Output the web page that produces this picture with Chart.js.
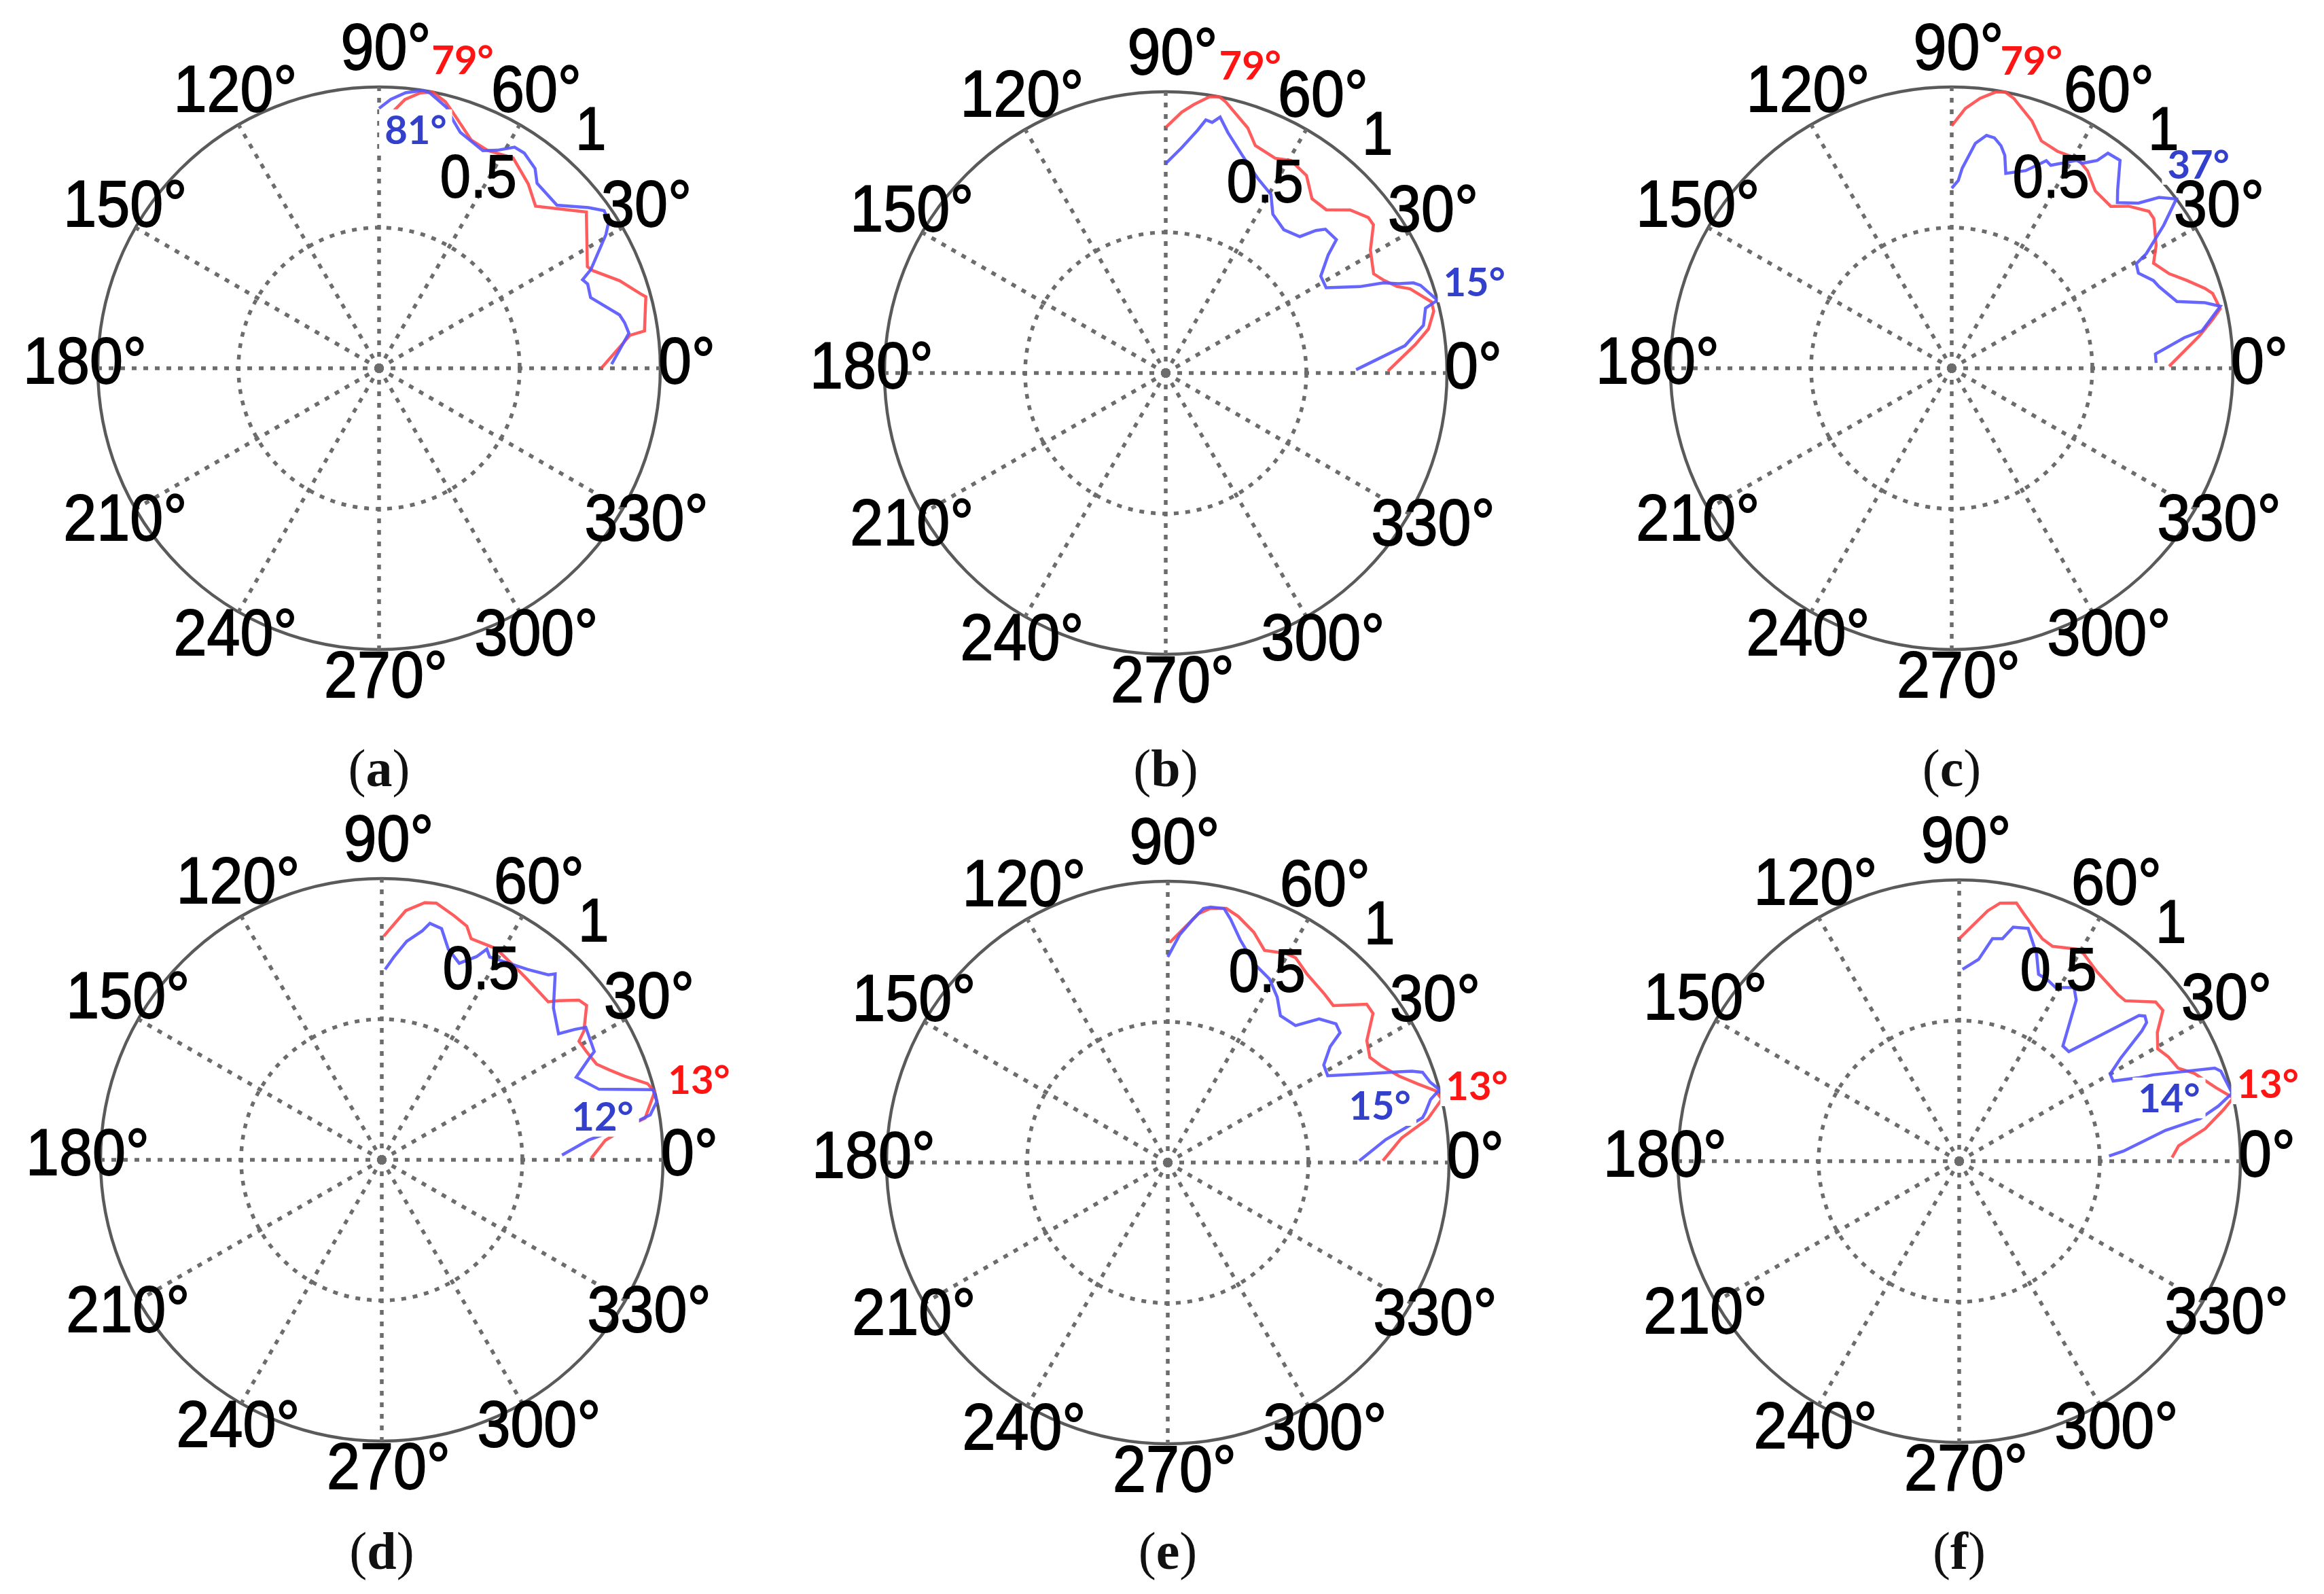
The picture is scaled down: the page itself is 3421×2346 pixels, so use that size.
<!DOCTYPE html>
<html>
<head>
<meta charset="utf-8">
<script src="https://cdn.jsdelivr.net/npm/chart.js@4.4.1/dist/chart.umd.min.js"></script>
<style>
html,body{margin:0;padding:0;background:#fff;}
body{width:3421px;height:2346px;position:relative;overflow:hidden;}
.pane{position:absolute;width:1160px;height:1160px;}
.cap{position:absolute;width:240px;text-align:center;font-family:"Liberation Serif","Times New Roman",serif;font-size:78px;line-height:78px;color:#111;}
.cap b{font-weight:bold;}
</style>
</head>
<body>
<script>
// ---------------- DATA (angle in degrees, normalised radius) ----------------
const angleTicks = [0, 30, 60, 90, 120, 150, 180, 210, 240, 270, 300, 330];
const radialTicks = [0.5, 1];
const radialTickText = ['0.5', '1'];
const captions = ['a', 'b', 'c', 'd', 'e', 'f'];

const degA_red  = [0, 7.5, 8, 15, 16, 20, 24.5, 26, 37, 46, 51, 57.5, 63.5, 68, 74, 76, 79, 81.5, 84.5, 87];
const rA_red    = [.79, .90, .953, .982, .965, .91, .836, .824, .923, .801, .843, .887, .865, .875, .948, .976, 1.0, .99, .96, .912];
const degA_blue = [1, 8, 10.5, 12.5, 18.5, 22, 23.5, 25, 30.5, 32.5, 35, 37.5, 42.5, 49.5, 52, 56, 58.5, 61.5, 64.5, 71, 73.5, 75.5, 79.5, 81, 84.5, 87.5, 90];
const rA_blue   = [.827, .897, .888, .876, .793, .80, .789, .831, .936, .968, .977, .938, .858, .865, .901, .923, .922, .882, .857, .887, .922, .958, .995, 1.0, .984, .957, .924];

const degB_red  = [0.5, 6.5, 9.5, 13, 15, 19, 20.5, 23, 25.5, 31, 35.5, 37.5, 41.5, 45.5, 50, 54.5, 59.5, 63, 68.5, 71.5, 77.5, 79, 81, 84, 86.5, 90];
const rB_red    = [.79, .893, .947, .978, .978, .919, .878, .843, .819, .849, .907, .908, .875, .814, .809, .862, .877, .857, .869, .919, .987, 1.0, .994, .96, .929, .873];
const degB_blue = [1, 6.5, 10.5, 14, 15, 19, 20, 21, 22.5, 24, 28, 32, 36, 38, 42, 43.5, 45.5, 50.5, 56, 59.5, 64.5, 70.5, 75.5, 78, 79.5, 81, 82.5, 86, 90];
const rB_blue   = [.677, .856, .932, .952, 1.0, .958, .937, .887, .838, .755, .646, .65, .714, .77, .764, .736, .68, .66, .681, .737, .764, .819, .883, .93, .906, .911, .871, .802, .745];

const degC_red  = [0.5, 7.5, 10.5, 12.5, 16, 17.5, 20.5, 23.5, 27.5, 31, 36.5, 38.5, 42.5, 45.5, 51, 55.5, 59, 64, 68.5, 72, 77, 79, 81, 84, 87, 90];
const rC_red    = [.773, .889, .942, .978, .965, .944, .892, .843, .809, .848, .894, .896, .853, .807, .811, .852, .869, .858, .869, .924, .984, 1.0, .994, .965, .925, .862];
const degC_blue = [1.5, 4, 7.5, 8.5, 13, 14.5, 16.5, 21.5, 23.5, 27, 29.5, 30.5, 34, 37, 39.5, 41.5, 45, 47, 51, 54, 55, 57.5, 59, 64, 65.5, 69.5, 74.5, 76, 77.5, 79.5, 81.5, 84, 87, 88, 90];
const rC_blue   = [.727, .726, .834, .90, .98, .93, .835, .792, .782, .745, .754, .803, .909, 1.0, .955, .886, .833, .865, .951, .945, .902, .864, .862, .803, .811, .75, .719, .78, .81, .833, .837, .804, .712, .668, .64];

const degD_red  = [0.5, 5, 8, 9, 14, 16, 19, 21.5, 24, 28, 31, 32.5, 37, 39, 42, 43.5, 51, 53.5, 61.5, 68, 70, 73.5, 78, 80.5, 84.5, 89.5];
const rD_red    = [.745, .798, .895, .948, 1.0, .983, .913, .871, .836, .823, .818, .852, .912, .902, .846, .816, .824, .829, .854, .848, .884, .905, .933, .927, .89, .795];
const degD_blue = [1.5, 5.5, 8, 9.5, 12, 14.5, 18, 23, 26, 27, 33, 34, 35.5, 41.5, 47, 48, 52.5, 62, 63.5, 65, 68.5, 72.5, 75.5, 78.5, 80, 83.5, 86.5, 89];
const rD_blue   = [.641, .74, .89, .968, 1.0, .996, .812, .751, .819, .848, .865, .83, .772, .815, .904, .885, .853, .817, .837, .797, .751, .786, .849, .858, .826, .782, .724, .677];

const degE_red  = [0.5, 6, 9.5, 13, 15, 17.5, 20.5, 24.5, 27.5, 31.5, 36, 38.5, 43.5, 47, 53.5, 58, 60.5, 65.5, 69.5, 74, 77, 80.5, 83, 89.5];
const rE_red    = [.765, .836, .937, 1.0, .986, .931, .878, .832, .81, .83, .902, .904, .811, .818, .833, .858, .854, .829, .874, .91, .927, .916, .891, .782];
const degE_blue = [0.5, 6, 10, 11, 13.5, 15, 17, 19.5, 20.5, 21.5, 24, 28.5, 32, 35.5, 37, 39.5, 43.5, 47, 52.5, 56.5, 61, 66.5, 72, 75.5, 77.5, 80.5, 82, 84, 87, 90];
const rE_blue   = [.681, .779, .92, .933, .961, 1.0, .976, .961, .927, .88, .776, .647, .654, .709, .767, .775, .742, .666, .658, .705, .746, .771, .833, .893, .925, .921, .912, .871, .811, .731];

const degF_red  = [1, 4, 7.5, 11, 13, 16, 20.5, 23, 26.5, 29.5, 33, 36.5, 39, 44, 46.5, 54, 59, 61, 66.5, 69.5, 71.5, 75.5, 77.5, 81, 83.5, 90];
const rF_red    = [.757, .782, .882, .957, 1.0, .949, .892, .846, .831, .811, .84, .901, .899, .821, .818, .833, .86, .862, .833, .844, .863, .911, .94, .929, .896, .791];
const degF_blue = [2, 3.5, 8.5, 10, 12, 14, 19, 20, 24, 25, 27.5, 30, 32.5, 35.5, 36.5, 38, 39, 45, 48, 51, 54, 56.5, 61, 64, 67, 69.5, 73.5, 77, 79, 81.5, 84.5, 89];
const rF_blue   = [.533, .585, .742, .869, .942, 1.0, .984, .967, .755, .701, .617, .62, .68, .798, .829, .838, .823, .551, .551, .619, .708, .74, .706, .717, .722, .786, .863, .854, .806, .80, .721, .682];

// peak annotations (text) per panel: [red, blue]
const peakText_a = ['79°', '81°'];
const peakText_b = ['79°', '15°'];
const peakText_c = ['79°', '37°'];
const peakText_d = ['13°', '12°'];
const peakText_e = ['13°', '15°'];
const peakText_f = ['13°', '14°'];

// ---------------- LAYOUT (positions / styles) ----------------
const R = 414;          // plot radius in px
const HALF = 580;       // half canvas size
const panels = [
  {id:'a', cx:558,  cy:542,  red:[degA_red, rA_red], blue:[degA_blue, rA_blue], peaks:peakText_a, pos:[[0.297,1.097],[0.130,0.848]]},
  {id:'b', cx:1716, cy:549,  red:[degB_red, rB_red], blue:[degB_blue, rB_blue], peaks:peakText_b, pos:[[0.300,1.094],[1.097,0.324]]},
  {id:'c', cx:2873, cy:542,  red:[degC_red, rC_red], blue:[degC_blue, rC_blue], peaks:peakText_c, pos:[[0.283,1.094],[0.877,0.725]]},
  {id:'d', cx:562,  cy:1707, red:[degD_red, rD_red], blue:[degD_blue, rD_blue], peaks:peakText_d, pos:[[1.128,0.285],[0.785,0.155]]},
  {id:'e', cx:1719, cy:1711, red:[degE_red, rE_red], blue:[degE_blue, rE_blue], peaks:peakText_e, pos:[[1.099,0.273],[0.754,0.203]]},
  {id:'f', cx:2884, cy:1709, red:[degF_red, rF_red], blue:[degF_blue, rF_blue], peaks:peakText_f, pos:[[1.097,0.275],[0.746,0.225]]}
];
const captionY = [1131, 1131, 1131, 2283, 2283, 2283];
const radialTextPos = [[0.353, 0.676], [0.753, 0.845]];

const STEP = 0.5;                       // degrees per radar slot
const NSLOT = 360 / STEP;
const slotLabels = Array.from({length: NSLOT}, (_, i) => String(90 - i * STEP));
function toSlots(deg, r) {
  const arr = new Array(Math.round(90 / STEP) + 1).fill(null);
  deg.forEach((d, k) => { arr[Math.round((90 - d) / STEP)] = r[k]; });
  return arr;
}

// keep curves open (radar lines close by default)
const openLine = {
  id: 'openLine',
  afterDatasetUpdate(chart, args) {
    const el = args.meta.dataset;
    if (el) { el._loop = false; el._fullLoop = false; delete el._segments; delete el._path; }
  }
};

function heavyText(ctx, t, x, y, sy) {
  ctx.save();
  ctx.translate(x, y);
  ctx.scale(1, sy);
  ctx.fillText(t, 0, 3);
  ctx.strokeText(t, 0, 3);
  ctx.restore();
}

function makeTextPlugin(p) {
  return {
    id: 'polarText',
    afterDraw(chart) {
      const s = chart.scales.r;
      const ctx = chart.ctx;
      const cx = s.xCenter, cy = s.yCenter, rr = s.drawingArea;
      ctx.save();
      ctx.textAlign = 'center';
      ctx.textBaseline = 'middle';
      // peak annotations with white boxes
      ctx.font = 'bold 58px Lato, "Open Sans", sans-serif';
      p.peaks.forEach((t, k) => {
        const x = cx + p.pos[k][0] * rr, y = cy - p.pos[k][1] * rr;
        const w = ctx.measureText(t).width;
        ctx.fillStyle = '#fff';
        ctx.fillRect(x - w / 2 - 8, y - 30, w + 16, 60);
        ctx.fillStyle = k === 0 ? '#ff1414' : '#3340cc';
        ctx.fillText(t, x, y + 2);
      });
      // angle labels
      ctx.fillStyle = '#000';
      ctx.strokeStyle = '#000';
      ctx.lineWidth = 1.6;
      ctx.font = '88px "Liberation Sans", Arial, sans-serif';
      angleTicks.forEach(a => {
        const th = a * Math.PI / 180;
        const x = cx + 10 + 1.07 * rr * Math.cos(th);
        const y = cy - 8 - 1.115 * rr * Math.sin(th);
        heavyText(ctx, a + '°', x, y, 1.1);
      });
      // radial labels
      ctx.font = '81px "Liberation Sans", Arial, sans-serif';
      radialTickText.forEach((t, k) => {
        const x = cx + radialTextPos[k][0] * rr, y = cy - radialTextPos[k][1] * rr;
        heavyText(ctx, t, x, y, 1.1);
      });
      ctx.restore();
    }
  };
}

panels.forEach((p, idx) => {
  const c = document.createElement('canvas');
  c.className = 'pane';
  c.width = 2 * HALF; c.height = 2 * HALF;
  c.style.left = (p.cx - HALF) + 'px';
  c.style.top = (p.cy - HALF) + 'px';
  document.body.appendChild(c);

  const cap = document.createElement('div');
  cap.className = 'cap';
  cap.style.left = (p.cx - 120) + 'px';
  cap.style.top = (captionY[idx] - 39) + 'px';
  cap.innerHTML = '(<b>' + captions[idx] + '</b>)';
  document.body.appendChild(cap);

  new Chart(c, {
    type: 'radar',
    data: {
      labels: slotLabels,
      datasets: [
        {data: toSlots(p.blue[0], p.blue[1]), borderColor: 'rgba(85,85,255,0.9)', borderWidth: 4.5,
         pointRadius: 0, fill: false, spanGaps: true, tension: 0, backgroundColor: 'transparent'},
        {data: toSlots(p.red[0], p.red[1]), borderColor: 'rgba(255,75,75,0.9)', borderWidth: 4.5,
         pointRadius: 0, fill: false, spanGaps: true, tension: 0, backgroundColor: 'transparent'}
      ]
    },
    options: {
      responsive: false,
      animation: false,
      devicePixelRatio: 1,
      layout: {padding: HALF - R},
      plugins: {legend: {display: false}, tooltip: {enabled: false}},
      elements: {point: {radius: 0, hoverRadius: 0}},
      scales: {
        r: {
          min: 0, max: 1, startAngle: 0,
          ticks: {display: false, stepSize: 0.5},
          pointLabels: {display: false},
          grid: {
            circular: true,
            color: ctx => (ctx.tick && ctx.tick.value === 1) ? '#5a5a5a' : '#6c6c6c',
            lineWidth: ctx => (ctx.tick && ctx.tick.value === 1) ? 4.5 : 5.5
          },
          border: {dash: ctx => (ctx.tick && ctx.tick.value === 1) ? [] : [7, 10]},
          angleLines: {
            display: true,
            color: '#6c6c6c',
            lineWidth: ctx => (ctx.index % (30 / STEP) === 0) ? 5.5 : 0,
            borderDash: [7, 10]
          }
        }
      }
    },
    plugins: [openLine, makeTextPlugin(p)]
  });
});
</script>
</body>
</html>
